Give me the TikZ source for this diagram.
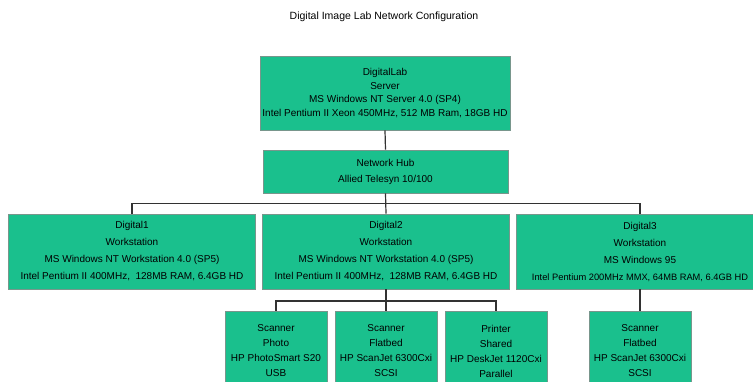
\documentclass[tikz,border=0pt]{standalone}
\usepackage{fontspec}
\setmainfont{Liberation Sans}
\usepackage{tikz}
\usetikzlibrary{calc,positioning}

\definecolor{boxgreen}{RGB}{26,192,141}
\definecolor{boxedge}{RGB}{120,150,140}
\definecolor{wire}{RGB}{50,50,50}

\begin{document}
\begin{tikzpicture}[x=1pt,y=-1pt,
        unitbox/.style={draw=boxedge,fill=boxgreen,line width=0.6pt,align=center,inner sep=0pt},
        serverbox/.style={unitbox,minimum width=250,minimum height=74,font=\fontsize{10}{13.5}\selectfont},
        hubbox/.style={unitbox,minimum width=245,minimum height=43,font=\fontsize{10}{16}\selectfont},
        wsbox/.style={unitbox,minimum width=247,minimum height=75,font=\fontsize{10}{17}\selectfont},
        devbox/.style={unitbox,minimum width=102,minimum height=80,font=\fontsize{10}{15}\selectfont},
        wire/.style={draw=wire,line width=1.2pt}]
        \clip (0,0) rectangle (753,382);

        \node (title) at (384,17) {\fontsize{10.5}{12}\selectfont Digital Image Lab Network Configuration};

        % server and hub
        \node[serverbox] (server) at (385,93) {DigitalLab\\Server\\MS Windows NT Server 4.0 (SP4)\\Intel Pentium II Xeon 450MHz, 512 MB Ram, 18GB HD};
        \node[hubbox] (hub) at (385.5,171.5) {Network Hub\\Allied Telesyn 10/100};

        % workstations
        \node[wsbox] (dig1) at (132,251.5) {Digital1\\Workstation\\MS Windows NT Workstation 4.0 (SP5)\\Intel Pentium II 400MHz,\ \ 128MB RAM, 6.4GB HD};
        \node[wsbox] (dig2) at (386,251.5) {Digital2\\Workstation\\MS Windows NT Workstation 4.0 (SP5)\\Intel Pentium II 400MHz,\ \ 128MB RAM, 6.4GB HD};
        \node[wsbox] (dig3) at (640,251.5) {Digital3\\Workstation\\MS Windows 95\\\fontsize{9.3}{17}\selectfont Intel Pentium 200MHz MMX, 64MB RAM, 6.4GB HD};

        % devices
        \def\devy{351}
        \node[devbox] (photo) at (276,\devy) {Scanner\\Photo\\HP PhotoSmart S20\\USB};
        \node[devbox] (flat2) at (386,\devy) {Scanner\\Flatbed\\HP ScanJet 6300Cxi\\SCSI};
        \node[devbox] (printer) at (496,\devy) {Printer\\Shared\\HP DeskJet 1120Cxi\\Parallel};
        \node[devbox] (flat3) at (640,\devy) {Scanner\\Flatbed\\HP ScanJet 6300Cxi\\SCSI};

        % wiring
        \coordinate (hubbus) at ($(hub.south)!0.5!(dig2.north)$);
        \coordinate (devbus) at ($(dig2.south)!0.55!(flat2.north)$);
        \draw[wire] (server.south) -- (hub.north);
        \draw[wire] (hub.south) -- (dig2.north);
        \draw[wire] (dig1.north) |- (hubbus) -| (dig3.north);
        \draw[wire] (dig2.south) -- (flat2.north);
        \draw[wire] (photo.north) |- (devbus) -| (printer.north);
        \draw[wire] (dig3.south) -- (flat3.north);
    \end{tikzpicture}
\end{document}
